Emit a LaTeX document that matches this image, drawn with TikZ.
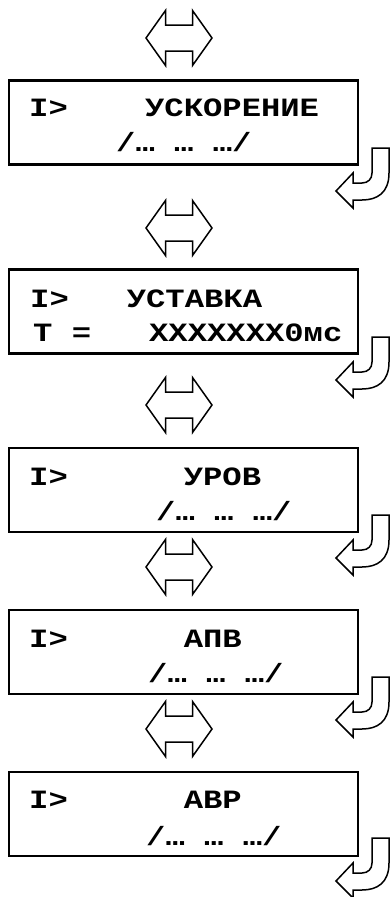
\documentclass[tikz,border=0pt]{standalone}
\usepackage{fontspec}
\newfontfamily\lcdfont{Liberation Mono}[FakeStretch=1.22]
\begin{document}
\begin{tikzpicture}[x=1pt,y=-1pt,
  screen/.style={draw,line width=2.2pt,minimum width=349pt,minimum height=84pt,inner sep=0pt},
  lcd/.style={anchor=base west,inner sep=0pt,font=\lcdfont\bfseries\fontsize{26.4}{30}\selectfont},
  flip/.style={draw,line width=1.5pt,line join=miter},
  turn/.style={draw,line width=1.5pt}]
\useasboundingbox (0,0) rectangle (390,897);
\node[screen] (b1) at (183.5,122.5) {};
\node[lcd] (b1top) at (29,116) {I>~~~~УСКОРЕНИЕ};\node[lcd] (b1bot) at (116,151) {/…~…~…/};
\node[screen] (b2) at (183.5,311.5) {};
\node[lcd] (b2top) at (30,307) {I>~~~УСТАВКА};\node[lcd] (b2bot) at (33,341) {T~=~~~XXXXXXX0мс};
\node[screen] (b3) at (183.5,490) {};
\node[lcd] (b3top) at (29,485) {I>~~~~~~УРОВ};\node[lcd] (b3bot) at (156,520) {/…~…~…/};
\node[screen] (b4) at (183.5,652) {};
\node[lcd] (b4top) at (29,647) {I>~~~~~~АПВ};\node[lcd] (b4bot) at (148,682) {/…~…~…/};
\node[screen] (b5) at (183.5,814) {};
\node[lcd] (b5top) at (29,808) {I>~~~~~~АВР};\node[lcd] (b5bot) at (146,845) {/…~…~…/};
% up/down keys
\draw[flip,shift={(179,38)}] (-33,0)--(-13.5,-27.5)--(-13.5,-13)--(13.5,-13)--(13.5,-27.5)--(33,0)--(13.5,27.5)--(13.5,13)--(-13.5,13)--(-13.5,27.5)--cycle;
\draw[flip,shift={(179,228)}] (-33,0)--(-13.5,-27.5)--(-13.5,-13)--(13.5,-13)--(13.5,-27.5)--(33,0)--(13.5,27.5)--(13.5,13)--(-13.5,13)--(-13.5,27.5)--cycle;
\draw[flip,shift={(179,405)}] (-33,0)--(-13.5,-27.5)--(-13.5,-13)--(13.5,-13)--(13.5,-27.5)--(33,0)--(13.5,27.5)--(13.5,13)--(-13.5,13)--(-13.5,27.5)--cycle;
\draw[flip,shift={(179,567)}] (-33,0)--(-13.5,-27.5)--(-13.5,-13)--(13.5,-13)--(13.5,-27.5)--(33,0)--(13.5,27.5)--(13.5,13)--(-13.5,13)--(-13.5,27.5)--cycle;
\draw[flip,shift={(179,729)}] (-33,0)--(-13.5,-27.5)--(-13.5,-13)--(13.5,-13)--(13.5,-27.5)--(33,0)--(13.5,27.5)--(13.5,13)--(-13.5,13)--(-13.5,27.5)--cycle;
% return keys
\draw[turn,shift={(372,148)}] (0,0)--(17,0)--(17,25) .. controls (17,45) and (5,52) .. (-10,52)--(-19,52)--(-19,60)--(-36,43)--(-19,25)--(-19,35)--(-10,35) .. controls (-4,35) and (0,31) .. (0,25)--cycle;
\draw[turn,shift={(372,337)}] (0,0)--(17,0)--(17,25) .. controls (17,45) and (5,52) .. (-10,52)--(-19,52)--(-19,60)--(-36,43)--(-19,25)--(-19,35)--(-10,35) .. controls (-4,35) and (0,31) .. (0,25)--cycle;
\draw[turn,shift={(372,515)}] (0,0)--(17,0)--(17,25) .. controls (17,45) and (5,52) .. (-10,52)--(-19,52)--(-19,60)--(-36,43)--(-19,25)--(-19,35)--(-10,35) .. controls (-4,35) and (0,31) .. (0,25)--cycle;
\draw[turn,shift={(372,677)}] (0,0)--(17,0)--(17,25) .. controls (17,45) and (5,52) .. (-10,52)--(-19,52)--(-19,60)--(-36,43)--(-19,25)--(-19,35)--(-10,35) .. controls (-4,35) and (0,31) .. (0,25)--cycle;
\draw[turn,shift={(372,838)}] (0,0)--(17,0)--(17,25) .. controls (17,45) and (5,52) .. (-10,52)--(-19,52)--(-19,60)--(-36,43)--(-19,25)--(-19,35)--(-10,35) .. controls (-4,35) and (0,31) .. (0,25)--cycle;
\end{tikzpicture}
\end{document}
